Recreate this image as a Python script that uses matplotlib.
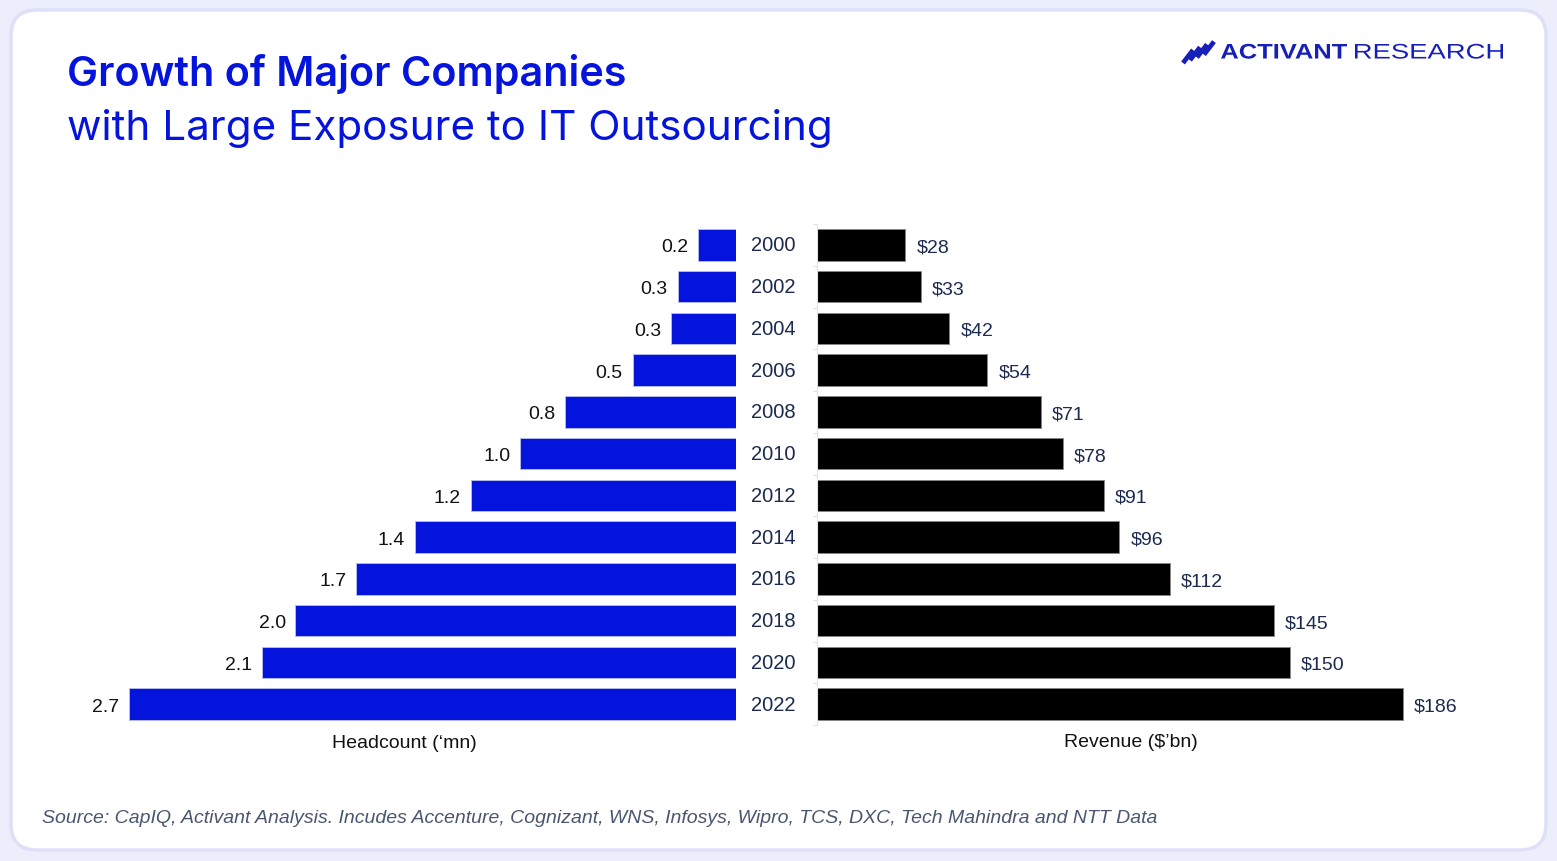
import matplotlib
matplotlib.use("Agg")
import matplotlib.pyplot as plt
from matplotlib.patches import FancyBboxPatch, PathPatch
from matplotlib.textpath import TextPath
from matplotlib.font_manager import FontProperties
from matplotlib.transforms import Affine2D

# data
years = ["2000", "2002", "2004", "2006", "2008", "2010", "2012",
         "2014", "2016", "2018", "2020", "2022"]
headcount = [0.17, 0.26, 0.29, 0.46, 0.76, 0.96, 1.18, 1.43, 1.69, 1.96, 2.11, 2.70]
revenue = [28, 33, 42, 54, 71, 78, 91, 96, 112, 145, 150, 186]

W, H = 1557, 862
BLUE = "#0414dc"
NAVY = "#1b2a4e"
LOGO = "#1620b8"
FONT = "Liberation Sans"

plt.rcParams["font.family"] = [FONT, "DejaVu Sans"]

fig = plt.figure(figsize=(W / 100, H / 100), dpi=100)
fig.patch.set_facecolor("#eceefb")

# background axes in pixel coordinates
bg = fig.add_axes([0, 0, 1, 1])
bg.set_xlim(0, W)
bg.set_ylim(H, 0)
bg.axis("off")
card = FancyBboxPatch((11, 11), W - 22, H - 22,
                      boxstyle="round,pad=0,rounding_size=26",
                      facecolor="white", edgecolor="#dde0f6", linewidth=2.5)
bg.add_patch(card)

# titles
bg.text(67, 74, "Growth of Major Companies", fontsize=29.8, fontweight="semibold",
        color=BLUE, va="center", ha="left", family="Inter")
bg.text(67, 129, "with Large Exposure to IT Outsourcing", fontsize=30.4,
        color=BLUE, va="center", ha="left", family="Inter")


# logo: words stretched to the box they fill in the reference
def logo_word(word, x0, x1, top, base, weight):
    tp = TextPath((0, 0), word, size=20, prop=FontProperties(family=FONT, weight=weight))
    ext = tp.get_extents()
    sx = (x1 - x0) / ext.width
    sy = (base - top) / ext.y1
    tr = Affine2D().translate(-ext.x0, 0).scale(sx, -sy).translate(x0, base)
    bg.add_patch(PathPatch(tr.transform_path(tp), facecolor=LOGO, edgecolor="none"))


for i in range(4):
    x0, y0 = 1183 + 7 * i, 64 - 2.8 * i
    bg.plot([x0, x0 + 10], [y0, y0 - 13], color=LOGO, lw=3.4,
            solid_capstyle="butt")
logo_word("ACTIVANT", 1221, 1347, 44.8, 59.5, "bold")
logo_word("RESEARCH", 1355, 1503, 44.8, 59.5, "normal")

# footer
bg.text(42, 819, "Source: CapIQ, Activant Analysis. Incudes Accenture, Cognizant, WNS, "
        "Infosys, Wipro, TCS, DXC, Tech Mahindra and NTT Data",
        fontsize=14.0, style="italic", color="#4a5670", va="center", ha="left")


def px_axes(x0, x1, y0, y1):
    return fig.add_axes([x0 / W, 1 - y1 / H, (x1 - x0) / W, (y1 - y0) / H])


row_top, row_bot = 225, 726
n = len(years)
pos = list(range(n))

# left: headcount
axl = px_axes(73, 736, row_top, row_bot)
axl.barh(pos, headcount, height=0.76, color=BLUE, edgecolor="#b8c0f0", linewidth=0.6)
axl.set_xlim(663 / 224.8, 0)
axl.set_ylim(n - 0.5, -0.5)
axl.axis("off")
for y, v in zip(pos, headcount):
    axl.annotate(f"{v:.1f}", (v, y), xytext=(-7, 0), textcoords="offset points",
                 ha="right", va="center_baseline", fontsize=14, color="#111111")
axl.text(0.5, -0.034, "Headcount (\u2018mn)", transform=axl.transAxes,
         ha="center", va="center", fontsize=14, color="#111111")

# right: revenue
axr = px_axes(817, 1445, row_top, row_bot)
axr.barh(pos, revenue, height=0.76, color="black", edgecolor="#888888", linewidth=0.6)
axr.set_xlim(0, 628 / 3.1505)
axr.set_ylim(n - 0.5, -0.5)
for s in ["top", "right", "bottom"]:
    axr.spines[s].set_visible(False)
axr.spines["left"].set_color("#e2e2e2")
axr.spines["left"].set_linewidth(0.8)
axr.set_xticks([])
axr.set_yticks(pos)
axr.set_yticklabels(years, ha="center", va="center", fontsize=14.5, color=NAVY)
axr.tick_params(axis="y", which="major", length=0, pad=31.5)
axr.set_yticks([p + 0.5 for p in pos[:-1]] + [-0.5, n - 0.5], minor=True)
axr.tick_params(axis="y", which="minor", length=3, color="#e2e2e2", width=0.8)
for y, v in zip(pos, revenue):
    axr.annotate(f"${v}", (v, y), xytext=(8, 0), textcoords="offset points",
                 ha="left", va="center_baseline", fontsize=14, color=NAVY)
axr.text(0.5, -0.032, "Revenue ($\u2019bn)", transform=axr.transAxes,
         ha="center", va="center", fontsize=14, color="#111111")

fig.savefig("out.png", dpi=100, facecolor=fig.get_facecolor())
